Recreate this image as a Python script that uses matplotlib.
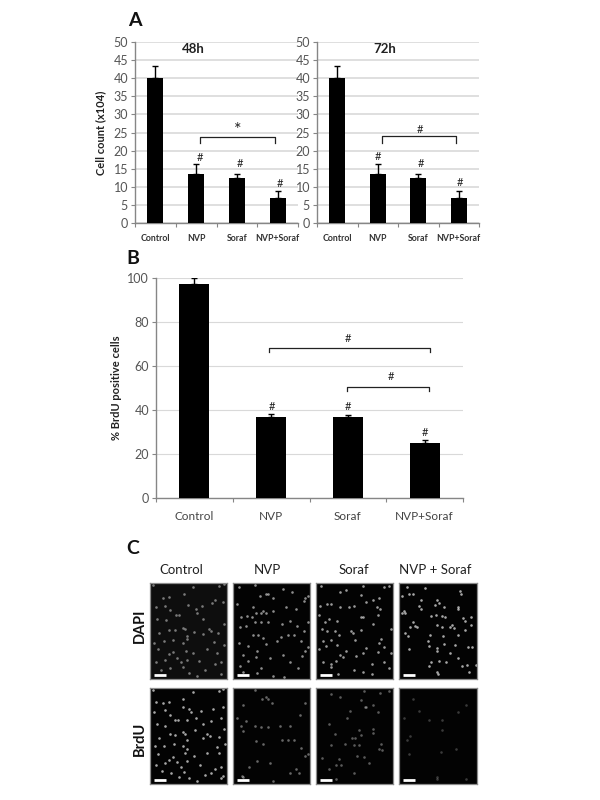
import matplotlib
matplotlib.use("Agg")
import matplotlib.pyplot as plt

plt.rcParams['font.family'] = ['Lato', 'DejaVu Sans']

W, H = 600, 800

groups = ["Control", "NVP", "Soraf", "NVP+Soraf"]

# panel A
count_48h = [40, 13.5, 12.5, 7]
count_48h_err = [3.3, 2.7, 1.0, 1.8]
count_72h = [40, 13.5, 12.5, 7]
count_72h_err = [3.3, 2.7, 1.0, 1.8]
count_ticks = [0, 5, 10, 15, 20, 25, 30, 35, 40, 45, 50]
hash_48h_y = [18.2, 16.3, 11.0]
hash_72h_y = [18.3, 16.3, 11.1]

# panel B
brdu = [97.3, 37, 37, 25]
brdu_err = [2.7, 1.3, 0.8, 1.4]
brdu_ticks = [0, 20, 40, 60, 80, 100]
hash_brdu_y = [41.8, 41.6, 30.0]

# panel C, spots (zoomed pixels inside each image)
dapi_control = [(8, 6), (40, 44), (58, 42), (102, 34), (130, 12), (196, 50), (218, 58), (206, 8), (222, 4),
                (18, 72), (45, 68), (60, 82), (115, 66), (138, 78), (155, 70), (186, 60), (20, 108), (48, 112),
                (78, 98), (88, 96), (140, 92), (158, 108), (222, 124), (58, 142), (75, 142), (98, 136), (104, 140),
                (110, 160), (132, 148), (176, 138), (182, 146), (205, 150), (28, 150), (12, 180), (42, 176), (70, 172),
                (100, 182), (112, 170), (160, 154), (192, 178), (222, 186), (24, 198), (68, 208), (58, 214), (108, 204),
                (128, 212), (172, 200), (200, 210), (18, 240), (44, 232), (80, 226), (92, 240), (112, 232), (148, 236),
                (196, 244), (214, 240), (60, 256), (100, 254), (118, 272), (166, 264), (212, 274), (34, 262), (140, 280)]
dapi_nvp = [(18, 12), (66, 6), (82, 38), (100, 34), (104, 32), (120, 46), (150, 18), (176, 28), (216, 44), (224, 40),
            (12, 62), (60, 74), (90, 84), (120, 84), (160, 74), (190, 78), (214, 54), (24, 104), (42, 100), (56, 104),
            (70, 90), (84, 92), (100, 92), (20, 132), (40, 130), (66, 118), (84, 118), (106, 118), (146, 124), (172, 116),
            (192, 130), (212, 144), (224, 118), (60, 156), (76, 158), (90, 166), (144, 162), (164, 158), (182, 158),
            (204, 176), (18, 182), (46, 190), (72, 206), (100, 184), (132, 176), (216, 206), (30, 216), (70, 224),
            (110, 228), (150, 218), (170, 240), (206, 222), (224, 192), (46, 236), (20, 250), (84, 258), (120, 282),
            (196, 258), (30, 268), (72, 272), (154, 284)]
dapi_soraf = [(14, 10), (72, 28), (90, 20), (134, 36), (142, 8), (150, 58), (170, 50), (188, 44), (204, 12), (220, 10),
              (12, 68), (32, 62), (44, 64), (72, 74), (100, 74), (114, 68), (182, 72), (192, 78), (8, 96), (40, 108),
              (28, 118), (62, 114), (134, 102), (140, 102), (186, 98), (18, 138), (32, 144), (58, 144), (70, 156),
              (104, 146), (112, 152), (136, 142), (170, 124), (226, 140), (20, 176), (44, 172), (64, 186), (116, 172),
              (188, 182), (196, 170), (204, 192), (10, 200), (30, 190), (72, 216), (90, 206), (140, 210), (150, 196),
              (186, 208), (226, 210), (20, 240), (44, 244), (60, 236), (80, 224), (120, 220), (168, 244), (204, 238),
              (44, 254), (114, 262), (140, 268), (66, 274), (168, 276), (218, 258)]
dapi_combo = [(24, 12), (30, 34), (42, 34), (78, 16), (182, 24), (184, 34), (10, 40), (64, 50), (112, 52), (118, 60),
              (106, 66), (132, 72), (174, 72), (176, 78), (14, 86), (8, 90), (18, 92), (58, 70), (66, 80), (94, 100),
              (110, 96), (126, 100), (136, 104), (212, 102), (190, 106), (40, 118), (32, 132), (48, 130), (54, 134),
              (112, 126), (126, 134), (150, 132), (156, 128), (164, 136), (196, 116), (212, 126), (18, 152), (26, 160),
              (92, 158), (130, 160), (174, 158), (196, 142), (86, 176), (90, 190), (134, 184), (166, 186), (30, 198),
              (112, 196), (114, 204), (150, 212), (176, 226), (204, 192), (216, 192), (96, 238), (88, 252), (118, 236),
              (140, 240), (186, 252), (200, 248), (112, 270), (116, 276), (206, 270), (228, 248)]
brdu_control = [(8, 6), (40, 44), (58, 42), (100, 34), (130, 12), (206, 8), (220, 4), (18, 42), (12, 72), (44, 66),
                (60, 82), (100, 56), (116, 62), (122, 74), (152, 70), (188, 64), (220, 56), (20, 108), (46, 114), (76, 96),
                (84, 98), (110, 98), (138, 92), (158, 108), (184, 100), (212, 92), (222, 124), (60, 138), (76, 142),
                (98, 134), (104, 140), (134, 126), (172, 138), (180, 144), (206, 148), (28, 152), (14, 176), (42, 176),
                (72, 168), (100, 176), (112, 156), (112, 184), (160, 152), (200, 178), (224, 170), (24, 198), (68, 208),
                (58, 216), (104, 196), (132, 206), (172, 196), (206, 196), (18, 232), (46, 226), (82, 224), (92, 238),
                (112, 222), (150, 232), (196, 244), (214, 240), (62, 256), (102, 254), (118, 272), (166, 264), (184, 258),
                (212, 272), (88, 268), (140, 282), (36, 252), (218, 266)]
brdu_nvp = [(66, 6), (86, 32), (104, 34), (100, 28), (118, 46), (30, 50), (200, 82), (216, 46), (12, 90), (40, 100), (24, 116),
            (66, 116), (84, 118), (106, 118), (172, 116), (146, 158), (164, 156), (182, 156), (204, 180), (216, 204),
            (30, 130), (70, 160), (90, 168), (142, 114), (72, 222), (30, 268), (26, 266), (110, 228), (48, 240), (190, 246),
            (120, 280), (170, 258), (198, 258), (224, 198)]
brdu_soraf = [(44, 18), (72, 28), (144, 8), (150, 58), (146, 58), (192, 16), (218, 10), (134, 36), (170, 50), (186, 74),
              (102, 70), (92, 92), (38, 108), (172, 124), (130, 126), (172, 136), (136, 142), (108, 150), (116, 152),
              (58, 140), (86, 168), (44, 172), (114, 172), (128, 172), (188, 184), (198, 188), (196, 168), (124, 204),
              (144, 208), (18, 210), (70, 214), (160, 228), (60, 234), (76, 234), (40, 246), (114, 258), (60, 276)]
brdu_combo = [(42, 32), (174, 72), (198, 50), (58, 70), (14, 90), (126, 98), (90, 98), (126, 126), (32, 146), (24, 158),
              (124, 194), (168, 184), (112, 270), (114, 276), (198, 276), (30, 198)]

scale_dapi = [(12, 48), (12, 48), (12, 48), (12, 48)]
scale_brdu = [(12, 48), (12, 48), (12, 48), (12, 48)]
micro_titles = ["Control", "NVP", "Soraf", "NVP + Soraf"]


def axes_px(fig, left, top, right, bottom):
    return fig.add_axes([left / W, 1 - bottom / H, (right - left) / W, (bottom - top) / H])


def bar_panel(ax, vals, errs, ticks, tick_size, label_size, label_color, grid_w, err_lw):
    x = list(range(len(vals)))
    ax.bar(x, vals, width=0.39, color="black", zorder=3,
           yerr=[[0] * len(errs), errs],
           error_kw=dict(ecolor="black", elinewidth=err_lw, capsize=2.5, capthick=1, zorder=3))
    ax.set_xlim(-0.5, len(vals) - 0.5)
    ax.set_ylim(ticks[0], ticks[-1])
    ax.set_yticks(ticks)
    ax.set_xticks([i - 0.5 for i in range(len(vals) + 1)], [""] * (len(vals) + 1))
    ax.tick_params(axis="both", direction="out", length=3, width=0.8, color="#868686")
    ax.tick_params(axis="y", labelsize=tick_size, labelcolor="#555555", pad=2)
    ax.yaxis.grid(True, color="#d9d9d9", lw=grid_w, zorder=0)
    ax.set_axisbelow(True)
    for side in ["top", "right"]:
        ax.spines[side].set_visible(False)
    for side in ["left", "bottom"]:
        ax.spines[side].set_color("#868686")
        ax.spines[side].set_linewidth(1.0)
    ax.spines["left"].set_zorder(4)
    for i, g in enumerate(groups):
        ax.annotate(g, (i, 0), xytext=(0, label_off[ax]), textcoords="offset points", ha="center", va="center",
                    fontsize=label_size, color=label_color, annotation_clip=False,
                    fontweight="bold" if label_size < 7 else "normal")


def bracket(ax, x0, x1, y_top, y_bot, text, text_x, text_y, size=8):
    ax.plot([x0, x0, x1, x1], [y_bot, y_top, y_top, y_bot], color="#222222", lw=0.9, zorder=5, clip_on=False)
    ax.text(text_x, text_y, text, ha="center", va="center", fontsize=size, color="#222222")


fig = plt.figure(figsize=(W / 100, H / 100), dpi=100)
fig.patch.set_facecolor("white")

ax_48 = axes_px(fig, 135, 42, 298, 223)
ax_72 = axes_px(fig, 317, 42, 479, 223)
ax_b = axes_px(fig, 156, 278, 463, 498)
label_off = {ax_48: -11, ax_72: -11, ax_b: -13.5}

bar_panel(ax_48, count_48h, count_48h_err, count_ticks, 9, 6.3, "#333333", 1.2, 1.0)
bar_panel(ax_72, count_72h, count_72h_err, count_ticks, 9, 6.3, "#333333", 1.2, 1.0)
bar_panel(ax_b, brdu, brdu_err, brdu_ticks, 9, 8.5, "#444444", 0.8, 1.0)

ax_48.set_ylabel("Cell count (x104)", fontsize=8, fontweight="bold", color="#222222", labelpad=5)
ax_b.set_ylabel("% BrdU positive cells", fontsize=8, fontweight="bold", color="#222222", labelpad=4)

ax_48.text(0.92, 48.2, "48h", ha="center", va="center", fontsize=9.5, fontweight="bold", color="#222222")
ax_72.text(1.17, 48.2, "72h", ha="center", va="center", fontsize=9.5, fontweight="bold", color="#222222")

for i, y in enumerate(hash_48h_y):
    ax_48.text([1.1, 2.07, 3.05][i], y, "#", ha="center", va="center", fontsize=8, color="#222222")
for i, y in enumerate(hash_72h_y):
    ax_72.text([1.0, 2.07, 3.02][i], y, "#", ha="center", va="center", fontsize=8, color="#222222")
for i, y in enumerate(hash_brdu_y):
    ax_b.text([1.01, 2.0, 3.0][i], y, "#", ha="center", va="center", fontsize=8, color="#222222")

bracket(ax_48, 1.1, 2.94, 23.8, 22.1, "*", 2.03, 25.6, size=13)
bracket(ax_72, 1.1, 2.92, 24.0, 22.1, "#", 2.03, 25.9)
bracket(ax_b, 0.97, 3.07, 68.2, 66.4, "#", 2.0, 72.7)
bracket(ax_b, 1.99, 3.06, 50.4, 48.5, "#", 2.56, 55.0)

# micrographs
cols = [(150, 227), (233, 310), (316, 393), (399, 477)]
rows = [(583, 679), (688, 784)]
row_spots = [[dapi_control, dapi_nvp, dapi_soraf, dapi_combo], [brdu_control, brdu_nvp, brdu_soraf, brdu_combo]]
row_scale = [scale_dapi, scale_brdu]
row_alpha = [[0.45, 0.55, 0.6, 0.65], [0.65, 0.4, 0.35, 0.22]]

for r, (top, bottom) in enumerate(rows):
    for c, (left, right) in enumerate(cols):
        ax = axes_px(fig, left, top, right, bottom)
        ax.set_facecolor("#0e0e0e" if (r == 0 and c == 0) else "#030303")
        sx, sy = zip(*row_spots[r][c])
        ax.scatter(sx, sy, s=3.5, color="white", alpha=row_alpha[r][c], linewidths=0)
        ax.plot(row_scale[r][c], [277, 277], color="white", lw=2, solid_capstyle="butt")
        ax.set_xlim(0, 231)
        ax.set_ylim(290, 0)
        ax.set_xticks([])
        ax.set_yticks([])
        for s in ax.spines.values():
            s.set_color("#8c8c8c")
            s.set_linewidth(0.9)

for px, t in zip([181, 267, 354, 435], micro_titles):
    fig.text(px / W, 1 - 570 / H, t, ha="center", va="center", fontsize=9.5, color="#222222")

fig.text(140 / W, 1 - 626 / H, "DAPI", rotation=90, ha="center", va="center", fontsize=10.5, fontweight="bold", color="#111111")
fig.text(140 / W, 1 - 739 / H, "BrdU", rotation=90, ha="center", va="center", fontsize=10.5, fontweight="bold", color="#111111")

for letter, px, py in [("A", 135, 20), ("B", 133, 259), ("C", 133, 549)]:
    fig.text(px / W, 1 - py / H, letter, ha="center", va="center", fontsize=14, fontweight="bold", color="#111111")

fig.savefig("out.png", dpi=100)
